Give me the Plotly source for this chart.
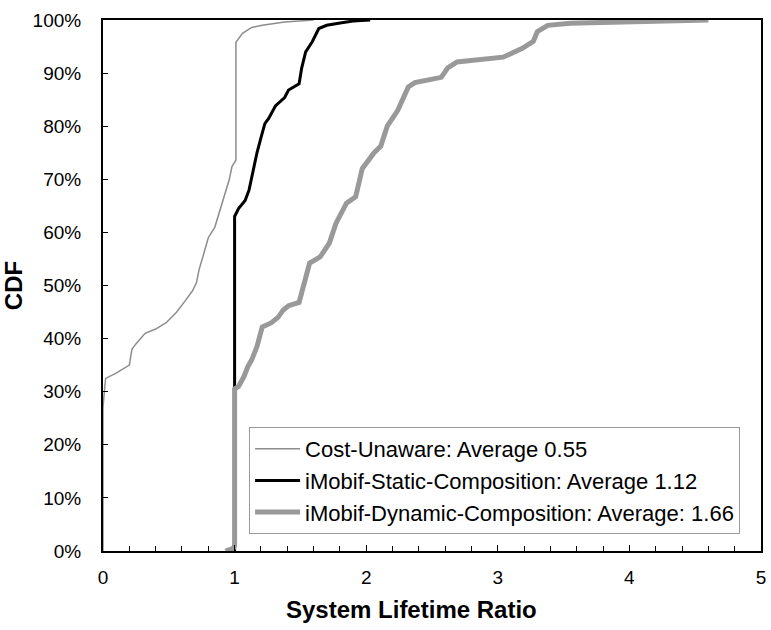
import plotly.graph_objects as go

# ---- data ----
cost_x = [0, 0, 0.01, 0.02, 0.1, 0.17, 0.2, 0.22, 0.25, 0.32, 0.4, 0.48, 0.56, 0.63, 0.68,
          0.71, 0.73, 0.76, 0.8, 0.85, 0.88, 0.91, 0.93, 0.96, 0.98, 1.01, 1.01, 1.06, 1.13,
          1.21, 1.38, 1.6]
cost_y = [0, 27, 30, 32.5, 33.5, 34.5, 35, 38, 39, 41, 41.8, 43, 45, 47.3, 49,
          50.5, 53, 55.5, 59, 61, 63.5, 66, 67.5, 70, 72.4, 73.6, 95.8, 97.5, 98.6,
          99, 99.6, 100]

static_x = [1.0, 1.0, 1.03, 1.08, 1.11, 1.13, 1.17, 1.2, 1.23, 1.26, 1.31, 1.38, 1.41, 1.49,
            1.51, 1.54, 1.59, 1.64, 1.7, 1.79, 1.9, 2.03]
static_y = [0, 63, 64.5, 66, 68, 70.5, 75, 77.8, 80.5, 81.5, 83.8, 85.4, 86.8, 88,
            91, 94, 95.9, 98.4, 99, 99.4, 99.8, 100]

dyn_x = [0.93, 0.99, 1.0, 1.0, 1.03, 1.07, 1.10, 1.13, 1.17, 1.21, 1.28, 1.33, 1.37, 1.41,
         1.49, 1.52, 1.57, 1.65, 1.72, 1.77, 1.85, 1.92, 1.95, 1.97, 2.06, 2.11, 2.16, 2.24,
         2.32, 2.37, 2.57, 2.62, 2.69, 3.04, 3.19, 3.27, 3.30, 3.38, 3.55, 4.0, 4.6]
dyn_y = [0, 0.5, 1, 30.5, 31, 32.8, 34.7, 36, 38.5, 42.2, 43, 44, 45.4, 46.2,
         46.8, 49.5, 54.2, 55.4, 58, 61.7, 65.5, 66.7, 69.5, 72, 75, 76.2, 80, 83,
         87.4, 88.2, 89.2, 91, 92.1, 93, 94.7, 96, 97.8, 99, 99.4, 99.7, 100]

names = ["Cost-Unaware: Average 0.55",
         "iMobif-Static-Composition: Average 1.12",
         "iMobif-Dynamic-Composition: Average: 1.66"]

x_ticks = [0, 1, 2, 3, 4, 5]
y_ticks = [0, 10, 20, 30, 40, 50, 60, 70, 80, 90, 100]

FONT = "Arial, 'Liberation Sans', Helvetica, sans-serif"

fig = go.Figure()
fig.add_trace(go.Scatter(x=cost_x, y=cost_y, mode="lines", name=names[0],
                         legendgroup="a", line=dict(color="#8c8c8c", width=1.5)))
fig.add_trace(go.Scatter(x=static_x, y=static_y, mode="lines", name=names[1],
                         legendgroup="b", line=dict(color="#000000", width=3)))
fig.add_trace(go.Scatter(x=dyn_x, y=dyn_y, mode="lines", name=names[2],
                         legendgroup="c", line=dict(color="#999999", width=5)))

fig.update_layout(
    width=771, height=630,
    margin=dict(l=103, r=5, t=20, b=79),
    paper_bgcolor="white", plot_bgcolor="white",
    font=dict(family=FONT, size=19, color="black"),
    showlegend=True,
    legend=dict(x=0.222, y=0.2335, xanchor="left", yanchor="top",
                bordercolor="#999999", borderwidth=1, bgcolor="white",
                font=dict(size=22), tracegroupgap=12, traceorder="normal",
                itemwidth=45),
    annotations=[dict(text="<b>System Lifetime Ratio</b>", xref="paper", yref="paper",
                      x=0.469, y=-0.11, xanchor="center", yanchor="middle",
                      showarrow=False, font=dict(size=24, family=FONT))],
)

fig.update_xaxes(
    range=[0, 5], tickvals=x_ticks, ticktext=[str(v) for v in x_ticks],
    showline=True, linecolor="black", linewidth=2, mirror=True,
    ticks="inside", ticklen=6, tickcolor="black", tickwidth=1,
    minor=dict(dtick=0.2, ticks="inside", ticklen=5, tickcolor="black"),
    showgrid=False, zeroline=False, ticklabelstandoff=8,
)
fig.update_yaxes(
    range=[0, 100], tickvals=y_ticks, ticktext=[f"{v}%" for v in y_ticks],
    showline=True, linecolor="black", linewidth=2, mirror=True,
    ticks="inside", ticklen=5, tickcolor="black", tickwidth=1,
    showgrid=False, zeroline=False, ticklabelstandoff=16,
    title=dict(text="CDF", font=dict(size=24, family=FONT, weight="bold"), standoff=4),
)

fig.write_html("out.html")
